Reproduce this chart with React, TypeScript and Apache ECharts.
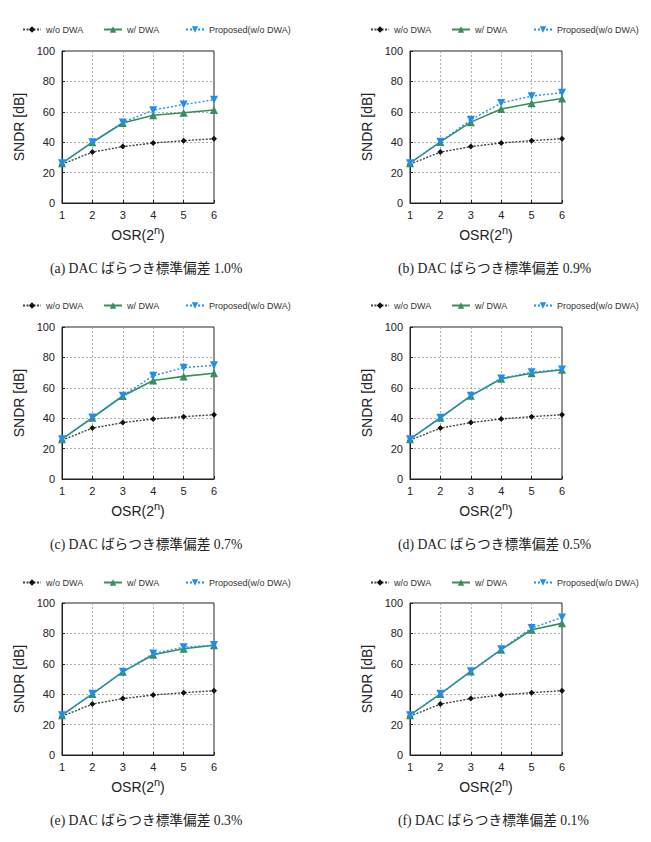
import React, { useEffect, useRef } from "react";
import * as echarts from "echarts";

const osr = [1, 2, 3, 4, 5, 6];
const yTicks = [0, 20, 40, 60, 80, 100];
const seriesNames = ["w/o DWA", "w/ DWA", "Proposed(w/o DWA)"];

const woDWA = [25.5, 33.5, 37.1, 39.5, 41.0, 42.3];

const wDWA_a = [26.2, 40.0, 52.6, 57.7, 59.4, 61.2];
const prop_a = [26.2, 40.0, 52.9, 61.1, 64.8, 67.9];
const wDWA_b = [26.2, 40.2, 53.2, 61.8, 65.6, 68.7];
const prop_b = [26.2, 40.3, 54.7, 65.8, 70.3, 72.6];
const wDWA_c = [26.2, 40.3, 54.6, 64.8, 67.5, 69.6];
const prop_c = [26.2, 40.4, 54.8, 67.9, 73.2, 74.8];
const wDWA_d = [26.2, 40.3, 54.7, 66.0, 69.6, 71.9];
const prop_d = [26.2, 40.3, 54.8, 66.2, 70.2, 72.1];
const wDWA_e = [26.2, 40.2, 54.7, 66.0, 69.9, 72.2];
const prop_e = [26.2, 40.3, 54.8, 66.7, 70.9, 72.3];
const wDWA_f = [26.2, 40.2, 55.0, 69.3, 82.4, 86.6];
const prop_f = [26.2, 40.3, 55.1, 69.5, 83.5, 90.5];

const panelLetters = ["(a)", "(b)", "(c)", "(d)", "(e)", "(f)"];
const sigmaValues = ["1.0%", "0.9%", "0.7%", "0.5%", "0.3%", "0.1%"];
const wDWAList = [wDWA_a, wDWA_b, wDWA_c, wDWA_d, wDWA_e, wDWA_f];
const propList = [prop_a, prop_b, prop_c, prop_d, prop_e, prop_f];

const SANS = "'Liberation Sans', Arial, Helvetica, sans-serif";
const SERIF = "'Liberation Serif', 'DejaVu Serif', 'Noto Sans CJK JP', serif";
const GREEN = "#3a8d5c";
const BLUE = "#1e8ff0";

export default function App() {
  const ref = useRef<HTMLDivElement>(null);
  useEffect(() => {
    if (!ref.current) return;
    const chart = echarts.init(ref.current, undefined, { renderer: "svg" });

    const colLeft = [62, 410];
    const rowTop = [51, 327, 603];
    const legendY = [31, 307, 584];
    const captionY = [270, 546, 822];
    const captionLeft = [50, 398];
    const legendLeft = [22, 103, 185];
    const W = 152;
    const H = 152;

    const grids: any[] = [];
    const xAxes: any[] = [];
    const yAxes: any[] = [];
    const series: any[] = [];
    const legends: any[] = [];
    const graphics: any[] = [];

    for (let p = 0; p < 6; p++) {
      const c = p % 2;
      const r = Math.floor(p / 2);
      const left = colLeft[c];
      const top = rowTop[r];
      grids.push({
        left,
        top,
        width: W,
        height: H,
        show: true,
        borderColor: "#222",
        borderWidth: 1,
        backgroundColor: "transparent",
      });
      xAxes.push({
        type: "value",
        gridIndex: p,
        min: 1,
        max: 6,
        interval: 1,
        name: "OSR(2{sup|n})",
        nameLocation: "middle",
        nameGap: 21,
        nameTextStyle: {
          fontFamily: SANS,
          fontSize: 14,
          color: "#222",
          rich: {
            sup: {
              fontFamily: SANS,
              fontSize: 11,
              color: "#222",
              verticalAlign: "bottom",
              padding: [0, 0, 11, 0],
            },
          },
        },
        axisLine: { show: true, lineStyle: { color: "#222", width: 1 } },
        axisTick: { show: true, inside: true, length: 3, lineStyle: { color: "#222" } },
        axisLabel: { fontFamily: SANS, fontSize: 11, color: "#222", margin: 6 },
        splitLine: { show: true, lineStyle: { color: "#999", type: [2, 2], width: 0.8 } },
      });
      yAxes.push({
        type: "value",
        gridIndex: p,
        min: 0,
        max: 100,
        interval: 20,
        name: "SNDR [dB]",
        nameLocation: "middle",
        nameGap: 36,
        nameRotate: 90,
        nameTextStyle: { fontFamily: SANS, fontSize: 14, color: "#222" },
        axisLine: { show: true, lineStyle: { color: "#222", width: 1 } },
        axisTick: { show: true, inside: true, length: 3, lineStyle: { color: "#222" } },
        axisLabel: { fontFamily: SANS, fontSize: 11, color: "#222", margin: 7 },
        splitLine: { show: true, lineStyle: { color: "#999", type: [2, 2], width: 0.8 } },
      });

      series.push({
        type: "line",
        name: seriesNames[0],
        xAxisIndex: p,
        yAxisIndex: p,
        data: osr.map((x, i) => [x, woDWA[i]]),
        symbol: "diamond",
        symbolSize: 6,
        itemStyle: { color: "#111" },
        lineStyle: { color: "#444", width: 1.4, type: [2, 1.5] },
        z: 2,
      });
      series.push({
        type: "line",
        name: seriesNames[1],
        xAxisIndex: p,
        yAxisIndex: p,
        data: osr.map((x, i) => [x, wDWAList[p][i]]),
        symbol: "triangle",
        symbolSize: 8,
        itemStyle: { color: GREEN },
        lineStyle: { color: GREEN, width: 1.6 },
        z: 3,
      });
      series.push({
        type: "line",
        name: seriesNames[2],
        xAxisIndex: p,
        yAxisIndex: p,
        data: osr.map((x, i) => [x, propList[p][i]]),
        symbol: "triangle",
        symbolRotate: 180,
        symbolSize: 8,
        itemStyle: { color: BLUE },
        lineStyle: { color: BLUE, width: 1.4, type: [2, 2] },
        z: 4,
      });

      const offset = colLeft[c] - colLeft[0];
      for (let k = 0; k < 3; k++) {
        legends.push({
          data: [seriesNames[k]],
          left: legendLeft[k] + offset,
          top: legendY[r] - 6,
          itemWidth: 18,
          itemHeight: 8,
          padding: 0,
          selectedMode: false,
          textStyle: { fontFamily: SANS, fontSize: 9, color: "#333" },
        });
      }

      graphics.push({
        type: "text",
        left: captionLeft[c],
        top: captionY[r] - 8,
        style: {
          text: `${panelLetters[p]} DAC ばらつき標準偏差 ${sigmaValues[p]}`,
          font: `13.7px ${SERIF}`,
          fill: "#222",
        },
      });
    }

    chart.setOption({
      animation: false,
      backgroundColor: "#fff",
      grid: grids,
      xAxis: xAxes,
      yAxis: yAxes,
      legend: legends,
      series,
      graphic: graphics,
    });
    return () => chart.dispose();
  }, []);

  return (
    <div
      ref={ref}
      style={{ position: "fixed", left: 0, top: 0, width: 651, height: 842, background: "#fff" }}
    />
  );
}
